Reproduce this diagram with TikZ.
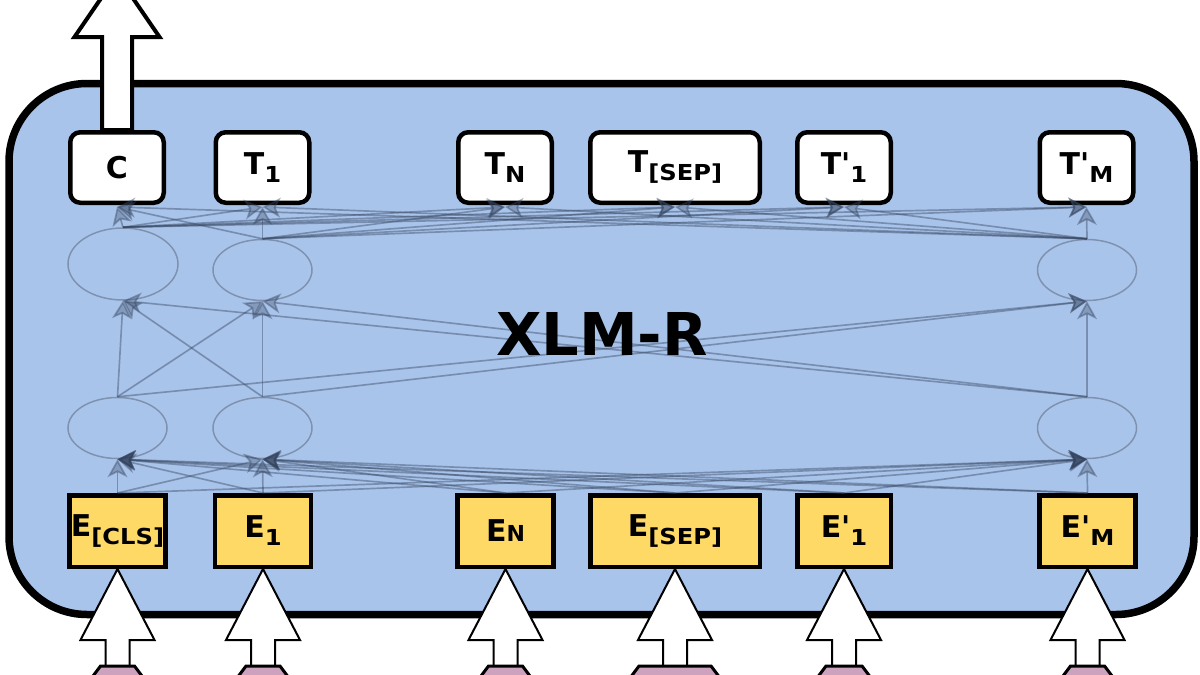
\documentclass[tikz,border=0pt]{standalone}
\usepackage{fontspec}
\setmainfont{DejaVu Sans}
\usetikzlibrary{arrows.meta,shapes.geometric,calc}
\definecolor{panel}{HTML}{A9C4EB}
\definecolor{eyellow}{HTML}{FFD966}
\definecolor{hexfill}{HTML}{CDA2BE}
\definecolor{linecol}{HTML}{34445E}
\newcommand{\lsub}[1]{\raisebox{-8pt}{\scalebox{1.1}[1]{\fontsize{22}{22}\selectfont #1}}}
\newcommand{\lsmall}[1]{{\fontsize{22}{22}\selectfont #1}}
\tikzset{
  tbox/.style={draw=black, line width=4.5pt, fill=white, rounded corners=10pt,
    minimum width=93.5pt, minimum height=70.5pt, inner sep=0pt,
    font=\bfseries\fontsize{30}{30}\selectfont},
  ebox/.style={draw=black, line width=4.5pt, fill=eyellow,
    minimum width=96pt, minimum height=71.5pt, inner sep=0pt,
    font=\bfseries\fontsize{30}{30}\selectfont},
  ell/.style={ellipse, draw=black, draw opacity=0.25, line width=1.5pt, inner sep=0pt},
  conn/.style={draw=linecol, fill=linecol, draw opacity=0.4, fill opacity=0.32,
    line width=1.7pt, -{Stealth[length=18pt,width=20pt,inset=5pt]}},
  blockarrow/.style={draw=black, fill=white, line width=2pt, line join=miter},
  hexa/.style={draw=black, fill=hexfill, line width=3pt, line join=miter},
  title/.style={font=\bfseries\fontsize{59}{60}\selectfont}
}
\begin{document}
\begin{tikzpicture}[x=1pt,y=-1pt]
\useasboundingbox (0,0) rectangle (1200,675);
\clip (0,0) rectangle (1200,675);

% main panel
\draw[fill=panel, draw=black, line width=7.5pt, rounded corners=78pt]
  (9,83.5) rectangle (1194,614.5);

% ellipses
\node[ell, minimum width=99pt, minimum height=61pt] (l1) at (117.5,428) {};
\node[ell, minimum width=99pt, minimum height=61pt] (l2) at (262.5,428) {};
\node[ell, minimum width=99pt, minimum height=61pt] (l3) at (1087,428) {};
\node[ell, minimum width=110pt, minimum height=72pt] (u1) at (123,264) {};
\node[ell, minimum width=99pt, minimum height=61pt] (u2) at (262.5,270) {};
\node[ell, minimum width=99pt, minimum height=61pt] (u3) at (1087,270) {};

% boxes
\node[tbox] (tc) at (117,167.5) {C};
\node[tbox] (t1) at (262.5,167.5) {T\lsub{1}};
\node[tbox] (tn) at (505,167.5) {T\lsub{N}};
\node[tbox, minimum width=169.5pt] (tsep) at (675,167.5) {T\lsub{[SEP]}};
\node[tbox] (tp1) at (844,167.5) {T\textquotesingle\lsub{1}};
\node[tbox] (tpm) at (1086.5,167.5) {T\textquotesingle\lsub{M}};

\node[ebox] (ecls) at (117.5,531) {E\lsub{[CLS]}};
\node[ebox] (e1) at (263,531) {E\lsub{1}};
\node[ebox] (en) at (505.5,531) {E\lsmall{N}};
\node[ebox, minimum width=169.5pt] (esep) at (675,531) {E\lsub{[SEP]}};
\node[ebox, minimum width=93.5pt] (ep1) at (844,531) {E\textquotesingle\lsub{1}};
\node[ebox] (epm) at (1087.5,531) {E\textquotesingle\lsub{M}};

% connectors
\foreach \s in {ecls,e1,en,esep,ep1,epm}
  \foreach \t in {l1,l2,l3}
    \draw[conn] (\s.north) -- (\t.south);
\foreach \s in {l1,l2,l3}
  \foreach \t in {u1,u2,u3}
    \draw[conn] (\s.north) -- (\t.south);
\foreach \s in {u1,u2,u3}
  \foreach \t in {tc,t1,tn,tsep,tp1,tpm}
    \draw[conn] (\s.north) -- ([yshift=-2pt]\t.south);

% title
\node[title] (xlmr) at (602,334) {XLM-R};

% output arrow
\draw[blockarrow, line width=4pt] ($(tc.north)+(-15,0)$) -- ++(0,-93) -- ++(-27.5,0)
  -- ++(42.5,-62) -- ++(42.5,62) -- ++(-27.5,0) -- ++(0,93) -- cycle;

% input arrows and token shapes
\foreach \b/\w in {ecls/17,e1/17,en/17,esep/36,ep1/18,epm/17} {
  \draw[blockarrow] (\b.south) -- ++(37,71) -- ++(-25,0) -- ++(0,30)
    -- ++(-24,0) -- ++(0,-30) -- ++(-25,0) -- cycle;
  \draw[hexa] ($(\b.south)+(-\w,97)$) -- ++(2*\w,0) -- ++(30,40)
    -- ++(-2*\w-60,0) -- cycle;
}
\end{tikzpicture}
\end{document}
